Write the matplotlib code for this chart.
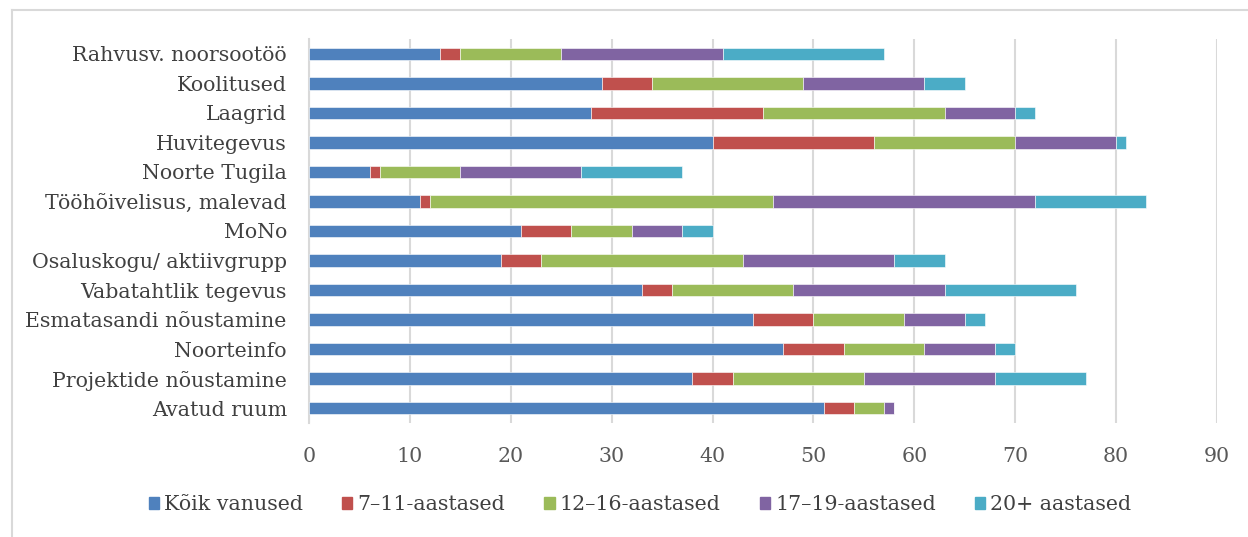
import matplotlib
matplotlib.use("Agg")
import matplotlib.pyplot as plt
import numpy as np
from matplotlib.lines import Line2D

categories = ["Rahvusv. noorsootöö", "Koolitused", "Laagrid", "Huvitegevus",
              "Noorte Tugila", "Tööhõivelisus, malevad", "MoNo",
              "Osaluskogu/ aktiivgrupp", "Vabatahtlik tegevus",
              "Esmatasandi nõustamine", "Noorteinfo",
              "Projektide nõustamine", "Avatud ruum"]
series_names = ["Kõik vanused", "7–11-aastased", "12–16-aastased",
                "17–19-aastased", "20+ aastased"]
koik = [13, 29, 28, 40, 6, 11, 21, 19, 33, 44, 47, 38, 51]
a7_11 = [2, 5, 17, 16, 1, 1, 5, 4, 3, 6, 6, 4, 3]
a12_16 = [10, 15, 18, 14, 8, 34, 6, 20, 12, 9, 8, 13, 3]
a17_19 = [16, 12, 7, 10, 12, 26, 5, 15, 15, 6, 7, 13, 1]
a20 = [16, 4, 2, 1, 10, 11, 3, 5, 13, 2, 2, 9, 0]
x_ticks = [0, 10, 20, 30, 40, 50, 60, 70, 80, 90]

colors = ["#4F81BD", "#C0504D", "#9BBB59", "#8064A2", "#4BACC6"]
text_color = "#404040"
font = "DejaVu Serif"
fs = 14.8

W, H = 1248, 537
fig = plt.figure(figsize=(W / 100, H / 100), dpi=100)
ax = fig.add_axes([309 / W, (H - 423) / H, 908 / W, 384 / H])

y = np.arange(len(categories))
left = np.zeros(len(categories))
for vals, c, name in zip([koik, a7_11, a12_16, a17_19, a20], colors, series_names):
    v = np.array(vals, dtype=float)
    ax.barh(y, v, left=left, height=0.42, color=c, label=name,
            edgecolor="white", linewidth=0.4, zorder=3)
    left += v

ax.set_ylim(len(categories) - 0.5, -0.5)
ax.set_xlim(0, 90)
ax.set_xticks(x_ticks)
ax.set_xticklabels([str(t) for t in x_ticks], fontsize=fs, color="#595959",
                   family=font)
ax.set_yticks(y)
ax.set_yticklabels(categories, fontsize=fs, color=text_color, family=font)
ax.tick_params(axis="x", length=0, pad=17)
ax.tick_params(axis="y", length=0, pad=16)
ax.grid(axis="x", color="#d9d9d9", linewidth=1.5, zorder=0)
for s in ["top", "right", "bottom"]:
    ax.spines[s].set_visible(False)
ax.spines["left"].set_color("#d9d9d9")
ax.spines["left"].set_linewidth(1.5)
ax.set_axisbelow(True)

# chart border
fig.add_artist(Line2D([12 / W, 12 / W], [0, 1 - 10 / H], color="#d9d9d9", lw=1.5))
fig.add_artist(Line2D([12 / W, 1], [1 - 10 / H, 1 - 10 / H], color="#d9d9d9", lw=1.5))

handles = [plt.Rectangle((0, 0), 1, 1, color=c) for c in colors]
leg = fig.legend(handles, series_names, loc="center", ncol=5,
                 bbox_to_anchor=(640 / W, 1 - 505 / H), frameon=False,
                 prop={"family": font, "size": fs}, handlelength=0.5,
                 handleheight=0.5, handletextpad=0.25, columnspacing=1.9)
for t in leg.get_texts():
    t.set_color(text_color)

fig.savefig("out.png", dpi=100)
